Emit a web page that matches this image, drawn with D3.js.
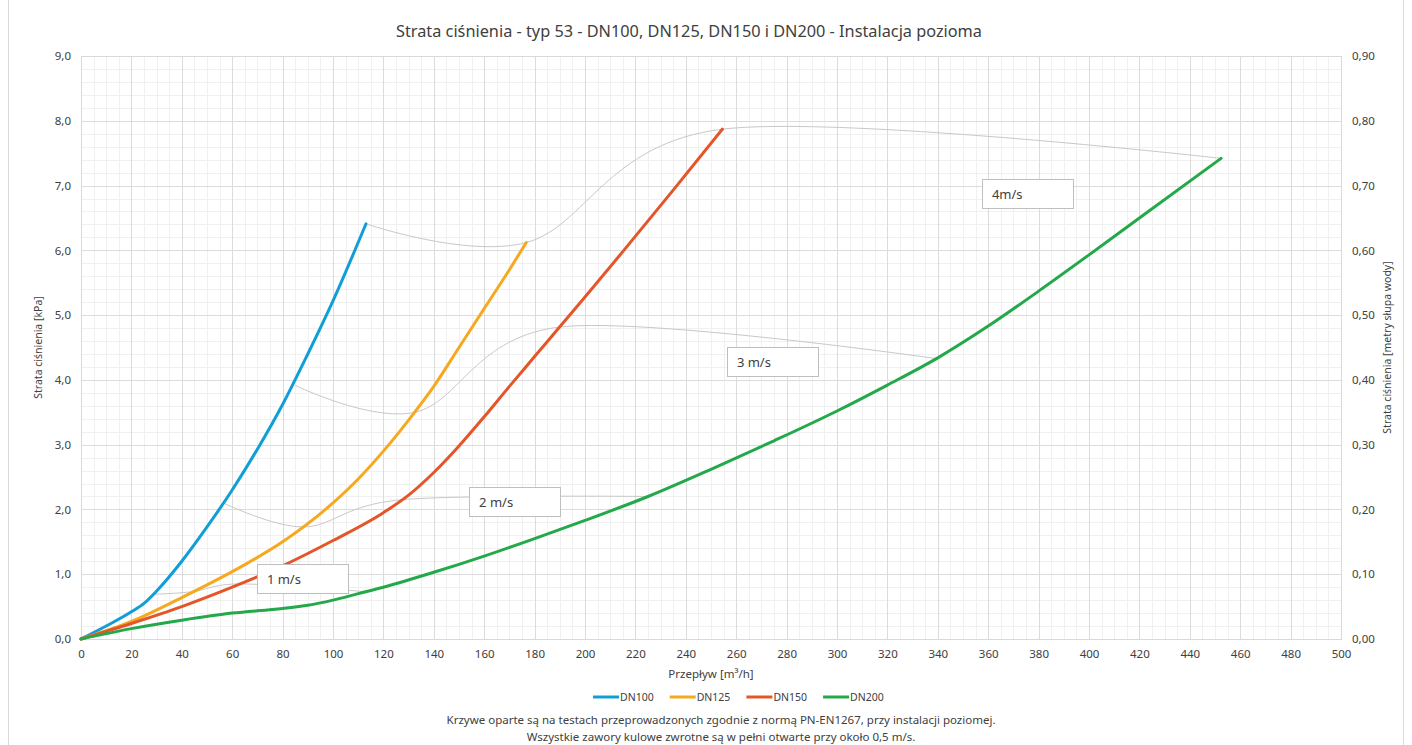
<!DOCTYPE html>
<html>
<head>
<meta charset="utf-8">
<script src="https://cdn.jsdelivr.net/npm/d3@7"></script>
<style>
  body { margin: 0; background: #fff; }
  svg { display: block; }
  text { font-family: "Noto Sans", sans-serif; fill: #404040; }
</style>
</head>
<body>
<div id="chart"></div>
<script>
// series: flow [m3/h] and pressure loss [kPa]
var seriesNames = ["DN100", "DN125", "DN150", "DN200"];
var flowDN100 = [0, 10, 20, 25, 30, 40, 50, 60, 70, 80, 90, 100, 113.1];
var lossDN100 = [0, 0.2, 0.42, 0.55, 0.74, 1.2, 1.73, 2.3, 2.93, 3.62, 4.4, 5.22, 6.41];
var flowDN125 = [0, 20, 40, 60, 80, 100, 110, 120, 130, 140, 150, 160, 170, 176.7];
var lossDN125 = [0, 0.27, 0.64, 1.04, 1.5, 2.1, 2.47, 2.9, 3.38, 3.9, 4.5, 5.1, 5.7, 6.12];
var flowDN150 = [0, 20, 40, 60, 80, 100, 120, 130, 140, 150, 160, 170, 180, 190, 200, 215, 235, 254.5];
var lossDN150 = [0, 0.24, 0.5, 0.8, 1.13, 1.52, 1.95, 2.22, 2.57, 2.98, 3.43, 3.9, 4.36, 4.82, 5.28, 5.98, 6.93, 7.87];
var flowDN200 = [0, 20, 40, 60, 80, 90, 100, 110, 120, 140, 160, 180, 200, 225, 250, 275, 300, 320, 340, 360, 380, 400, 420, 452.4];
var lossDN200 = [0, 0.16, 0.29, 0.4, 0.47, 0.52, 0.6, 0.7, 0.8, 1.03, 1.28, 1.55, 1.83, 2.2, 2.62, 3.06, 3.52, 3.92, 4.34, 4.83, 5.37, 5.93, 6.5, 7.42];

// iso-velocity lines (one point on each DN curve)
var velocityLabels = ["1 m/s", "2 m/s", "3 m/s", "4m/s"];
var velocityFlow = [
  [28.3, 44.2, 63.6, 113.1],
  [56.5, 88.4, 127.2, 226.2],
  [84.8, 132.5, 190.9, 339.3],
  [113.1, 176.7, 254.5, 452.4]
];
var velocityLoss = [
  [0.69, 0.73, 0.85, 0.73],
  [2.1, 1.73, 2.15, 2.2],
  [3.92, 3.5, 4.82, 4.33],
  [6.41, 6.12, 7.87, 7.42]
];
// top-left corner of each label box, in data units
var labelFlow = [69.8, 154, 256.3, 357.5];
var labelLoss = [1.16, 2.35, 4.51, 7.1];

var xTicks = d3.range(0, 501, 20);
var yTicks = d3.range(0, 9.01, 1);
var yRightTicks = d3.range(0, 0.901, 0.1);

var titleText = "Strata ciśnienia - typ 53 - DN100, DN125, DN150 i DN200 - Instalacja pozioma";
var xTitle = "Przepływ [m³/h]";
var yTitle = "Strata ciśnienia [kPa]";
var yRightTitle = "Strata ciśnienia [metry słupa wody]";
var notes = [
  "Krzywe oparte są na testach przeprowadzonych zgodnie z normą PN-EN1267, przy instalacji poziomej.",
  "Wszystkie zawory kulowe zwrotne są w pełni otwarte przy około 0,5 m/s."
];

var colors = ["#119ed6", "#f6a81f", "#e4562a", "#23a84a"];

var width = 1412, height = 745;
var margin = {top: 56, right: 71, bottom: 106, left: 81};
var plotW = width - margin.left - margin.right,
    plotH = height - margin.top - margin.bottom;

var svg = d3.select("#chart").append("svg")
    .attr("width", width)
    .attr("height", height);

svg.append("rect")
    .attr("x", 8.5).attr("y", -2)
    .attr("width", width - 17).attr("height", height + 10)
    .attr("fill", "#fff")
    .attr("stroke", "#d9d9d9");

var x = d3.scaleLinear().domain([0, 500]).range([0, plotW]);
var y = d3.scaleLinear().domain([0, 9]).range([plotH, 0]);
var yRight = d3.scaleLinear().domain([0, 0.9]).range([plotH, 0]);

var g = svg.append("g")
    .attr("transform", "translate(" + margin.left + "," + margin.top + ")");

// minor grid
g.append("g").selectAll("line")
  .data(d3.range(0, 501, 5))
  .enter().append("line")
    .attr("x1", d => Math.round(x(d)) + 0.5).attr("x2", d => Math.round(x(d)) + 0.5)
    .attr("y1", 0).attr("y2", plotH)
    .attr("stroke", "#f0f0f0");
g.append("g").selectAll("line")
  .data(d3.range(0, 9.01, 0.2))
  .enter().append("line")
    .attr("y1", d => Math.round(y(d)) + 0.5).attr("y2", d => Math.round(y(d)) + 0.5)
    .attr("x1", 0).attr("x2", plotW)
    .attr("stroke", "#f0f0f0");

// major grid
g.append("g").selectAll("line")
  .data(xTicks)
  .enter().append("line")
    .attr("x1", d => Math.round(x(d)) + 0.5).attr("x2", d => Math.round(x(d)) + 0.5)
    .attr("y1", 0).attr("y2", plotH)
    .attr("stroke", "#dcdcdc");
g.append("g").selectAll("line")
  .data(yTicks)
  .enter().append("line")
    .attr("y1", d => Math.round(y(d)) + 0.5).attr("y2", d => Math.round(y(d)) + 0.5)
    .attr("x1", 0).attr("x2", plotW)
    .attr("stroke", "#dcdcdc");

g.append("rect")
    .attr("x", 0.5).attr("y", 0.5)
    .attr("width", plotW).attr("height", plotH)
    .attr("fill", "none")
    .attr("stroke", "#d9d9d9");

// axes
var comma = f => (v => f(v).replace(".", ","));
var xAxis = g.append("g")
    .attr("transform", "translate(0," + plotH + ")")
    .call(d3.axisBottom(x).tickValues(xTicks).tickFormat(d3.format("d")).tickSize(0).tickPadding(11));
var yAxis = g.append("g")
    .call(d3.axisLeft(y).tickValues(yTicks).tickFormat(comma(d3.format(".1f"))).tickSize(0).tickPadding(10));
var yAxisR = g.append("g")
    .attr("transform", "translate(" + plotW + ",0)")
    .call(d3.axisRight(yRight).tickValues(yRightTicks).tickFormat(comma(d3.format(".2f"))).tickSize(0).tickPadding(11));
[xAxis, yAxis, yAxisR].forEach(function(a) {
  a.select(".domain").remove();
  a.selectAll("text").attr("font-family", null).style("font-size", "11.5px").attr("fill", "#404040");
});

// velocity lines
var smooth = d3.line()
    .x(d => x(d[0]))
    .y(d => y(d[1]))
    .curve(d3.curveCardinal.tension(0));

velocityFlow.forEach(function(fl, i) {
  var pts = fl.map((f, j) => [f, velocityLoss[i][j]]);
  g.append("path")
    .datum(pts)
    .attr("d", smooth)
    .attr("fill", "none")
    .attr("stroke", "#c8c8c8")
    .attr("stroke-width", 1);
});

// series
var seriesFlow = [flowDN100, flowDN125, flowDN150, flowDN200];
var seriesLoss = [lossDN100, lossDN125, lossDN150, lossDN200];
var line = d3.line()
    .x(d => x(d[0]))
    .y(d => y(d[1]))
    .curve(d3.curveMonotoneX);

seriesNames.forEach(function(name, i) {
  var pts = seriesFlow[i].map((f, j) => [f, seriesLoss[i][j]]);
  g.append("path")
    .datum(pts)
    .attr("d", line)
    .attr("fill", "none")
    .attr("stroke", colors[i])
    .attr("stroke-width", 3)
    .attr("stroke-linecap", "round");
});

// velocity label boxes
velocityLabels.forEach(function(lbl, i) {
  var bx = x(labelFlow[i]), by = y(labelLoss[i]);
  g.append("rect")
    .attr("x", Math.round(bx) + 0.5).attr("y", Math.round(by) + 0.5)
    .attr("width", 91).attr("height", 29)
    .attr("fill", "#fff")
    .attr("stroke", "#bfbfbf");
  g.append("text")
    .attr("x", bx + 10).attr("y", by + 20)
    .style("font-size", "13px")
    .attr("fill", "#000")
    .text(lbl);
});

// titles
svg.append("text")
    .attr("x", 689).attr("y", 37)
    .attr("text-anchor", "middle")
    .style("font-size", "16.3px")
    .text(titleText);

svg.append("text")
    .attr("x", margin.left + plotW / 2).attr("y", 678)
    .attr("text-anchor", "middle")
    .style("font-size", "11.5px")
    .text(xTitle);

svg.append("text")
    .attr("transform", "translate(42," + (margin.top + plotH / 2) + ") rotate(-90)")
    .attr("text-anchor", "middle")
    .style("font-size", "10.5px")
    .text(yTitle);

svg.append("text")
    .attr("transform", "translate(1391," + (margin.top + plotH / 2) + ") rotate(-90)")
    .attr("text-anchor", "middle")
    .style("font-size", "10.5px")
    .text(yRightTitle);

// legend
var legend = svg.append("g").attr("transform", "translate(593,697)");
seriesNames.forEach(function(name, i) {
  var item = legend.append("g").attr("transform", "translate(" + (i * 76.7) + ",0)");
  item.append("line")
    .attr("x1", 0).attr("x2", 26)
    .attr("stroke", colors[i]).attr("stroke-width", 3);
  item.append("text")
    .attr("x", 27).attr("y", 4)
    .style("font-size", "10.5px")
    .text(name);
});

// notes
notes.forEach(function(n, i) {
  svg.append("text")
    .attr("x", 721).attr("y", 724 + i * 17)
    .attr("text-anchor", "middle")
    .style("font-size", "11.5px")
    .attr("fill", "#000")
    .text(n);
});
</script>
</body>
</html>
